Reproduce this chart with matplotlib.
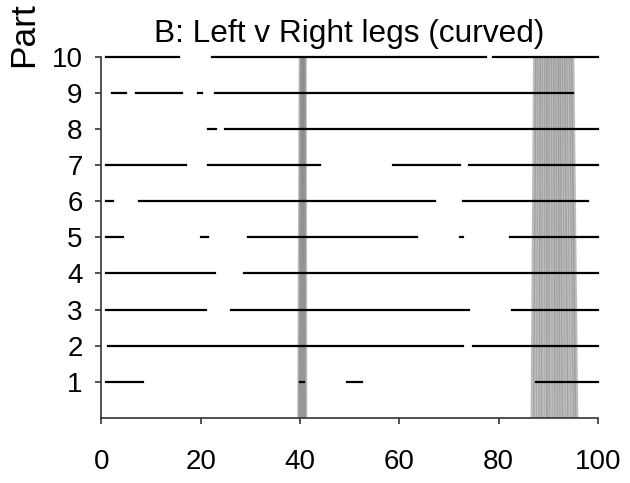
import matplotlib.pyplot as plt

fam = ['Liberation Sans', 'DejaVu Sans']

participants = [1, 2, 3, 4, 5, 6, 7, 8, 9, 10]

# visible (tracked) stretches per participant, % of gait cycle
seg_start = [
    [1, 40.0, 49.5, 87.5],
    [1.4, 74.8],
    [1, 26.2, 82.8],
    [1, 28.7],
    [1, 20.1, 29.6, 72.2, 82.2],
    [1, 7.6, 72.8],
    [1, 21.5, 58.8, 74.0],
    [21.4, 24.8],
    [2.2, 7.0, 19.5, 22.8],
    [1, 22.2, 78.8],
]
seg_end = [
    [8.4, 40.9, 52.4, 100],
    [72.8, 100],
    [21.0, 74.1, 100],
    [22.8, 100],
    [4.35, 21.5, 63.6, 72.8, 100],
    [2.3, 67.1, 98.1],
    [17.0, 44.1, 72.3, 100],
    [23.0, 100],
    [4.95, 16.2, 20.3, 95.0],
    [15.7, 77.5, 100],
]

# grey event markers (bottom x, top x)
band_bottom = [39.8, 40.0, 40.3, 40.6, 40.9, 41.1,
               86.8, 87.3, 87.9, 88.4, 88.9, 89.5, 90.0, 90.5, 91.1, 91.6,
               92.1, 92.6, 93.1, 93.7, 94.2, 94.8, 95.3, 95.7]
band_top = [40.1, 40.3, 40.5, 40.7, 40.8, 41.0,
            87.3, 87.7, 88.2, 88.6, 89.1, 89.5, 90.0, 90.4, 90.9, 91.3,
            91.8, 92.2, 92.6, 93.1, 93.5, 94.0, 94.5, 94.9]

fig = plt.figure(figsize=(6.3, 4.83), dpi=100)
ax = fig.add_axes([0.161, 0.135, 0.788, 0.747])

for xb, xt in zip(band_bottom, band_top):
    ax.plot([xb, xt], [0, 10], color='#888888', lw=2.6, alpha=0.55, zorder=1,
            solid_capstyle='butt')

for p, s, e in zip(participants, seg_start, seg_end):
    for a, b in zip(s, e):
        ax.plot([a, b], [p, p], color='black', lw=1.6, zorder=3, clip_on=False)

ax.set_xlim(0, 100)
ax.set_ylim(0, 10)
ax.set_xticks([0, 20, 40, 60, 80, 100])
ax.set_yticks(participants)
for side in ['top', 'right']:
    ax.spines[side].set_visible(False)
for side in ['left', 'bottom']:
    ax.spines[side].set_color('#333333')
    ax.spines[side].set_linewidth(1.2)
ax.tick_params(axis='both', direction='out', length=4.5, width=1.2, color='#333333')
ax.tick_params(axis='x', pad=18)
ax.tick_params(axis='y', pad=9)
for lab in ax.get_xticklabels() + ax.get_yticklabels():
    lab.set_family(fam)
    lab.set_fontsize(20)

ax.set_title('B: Left v Right legs (curved)', family=fam, fontsize=22.8, pad=10.8)
# y label is cropped at the top in the original; only "Part" shows
fig.text(0.038, 0.862, 'Part', rotation=90, ha='center', va='bottom',
         family=fam, fontsize=25.5)

fig.savefig('out.png', dpi=100)
